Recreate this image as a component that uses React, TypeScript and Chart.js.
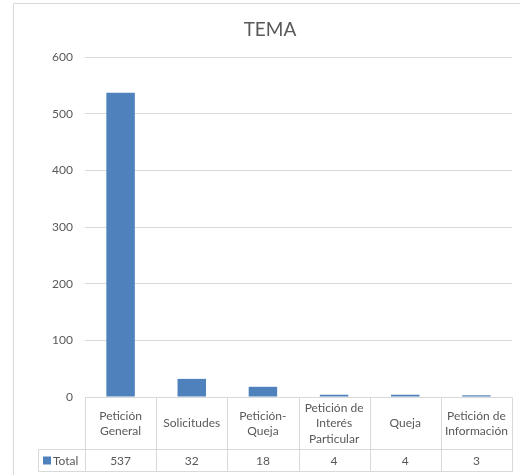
import React, { useEffect, useRef } from "react";
import { Chart, registerables } from "chart.js";

Chart.register(...registerables);

const chartTitle = "TEMA";
const seriesName = "Total";
const categories: string[][] = [
  ["Petición", "General"],
  ["Solicitudes"],
  ["Petición-", "Queja"],
  ["Petición de", "Interés", "Particular"],
  ["Queja"],
  ["Petición de", "Información"],
];
const totals = [537, 32, 18, 4, 4, 3];
const yMin = 0;
const yMax = 600;
const yStep = 100;

const FONT = "Lato, 'Open Sans', 'DejaVu Sans', sans-serif";
const TEXT = "#595959";
const LINE = "#d9d9d9";
const BAR = "#4f81bd";

const tablePlugin = {
  id: "tablePlugin",
  afterDraw(chart: any) {
    const ctx = chart.ctx;
    const area = chart.chartArea;
    const xs = chart.scales.x;
    const n = categories.length;
    const step = n > 1 ? xs.getPixelForValue(1) - xs.getPixelForValue(0) : area.right - area.left;
    const edges: number[] = [];
    for (let i = 0; i < n; i++) edges.push(xs.getPixelForValue(i) - step / 2);
    edges.push(xs.getPixelForValue(n - 1) + step / 2);
    const top = Math.round(area.bottom) + 0.5;
    const mid = top + 52;
    const bottom = mid + 22;
    const legendLeft = 38.5;

    ctx.save();
    ctx.strokeStyle = LINE;
    ctx.lineWidth = 1;
    // outer chart border
    ctx.beginPath();
    ctx.moveTo(13.5, chart.height);
    ctx.lineTo(13.5, 3.5);
    ctx.lineTo(chart.width, 3.5);
    ctx.stroke();

    ctx.beginPath();
    // top line (axis)
    ctx.moveTo(Math.round(edges[0]) + 0.5, top);
    ctx.lineTo(Math.round(edges[n]) + 0.5, top);
    // mid line
    ctx.moveTo(legendLeft, mid);
    ctx.lineTo(Math.round(edges[n]) + 0.5, mid);
    // bottom line
    ctx.moveTo(legendLeft, bottom);
    ctx.lineTo(Math.round(edges[n]) + 0.5, bottom);
    // legend cell left
    ctx.moveTo(legendLeft, mid);
    ctx.lineTo(legendLeft, bottom);
    for (let i = 0; i <= n; i++) {
      const ex = Math.round(edges[i]) + 0.5;
      ctx.moveTo(ex, top);
      ctx.lineTo(ex, bottom);
    }
    ctx.stroke();

    ctx.fillStyle = TEXT;
    ctx.font = `12px ${FONT}`;
    ctx.textAlign = "center";
    ctx.textBaseline = "middle";
    const lh = 15.5;
    const headerMid = (top + mid) / 2;
    for (let i = 0; i < n; i++) {
      const cx = xs.getPixelForValue(i);
      const lines = categories[i];
      const y0 = headerMid - ((lines.length - 1) * lh) / 2;
      lines.forEach((t, j) => ctx.fillText(t, cx, y0 + j * lh));
      ctx.fillText(String(totals[i]), cx, (mid + bottom) / 2 + 1);
    }
    // legend
    ctx.fillStyle = BAR;
    ctx.fillRect(43, (mid + bottom) / 2 - 4, 8, 8);
    ctx.fillStyle = TEXT;
    ctx.textAlign = "left";
    ctx.fillText(seriesName, 53, (mid + bottom) / 2 + 1);

    // title
    ctx.font = `19px ${FONT}`;
    ctx.textAlign = "center";
    ctx.fillText(chartTitle, 270, 30);
    ctx.restore();
  },
};

export default function App() {
  const ref = useRef<HTMLCanvasElement | null>(null);
  useEffect(() => {
    if (!ref.current) return;
    const chart = new Chart(ref.current, {
      type: "bar",
      data: {
        labels: categories.map((c) => c.join(" ")),
        datasets: [
          {
            label: seriesName,
            data: totals,
            backgroundColor: BAR,
            borderWidth: 0,
            categoryPercentage: 1,
            barPercentage: 0.4,
          },
        ],
      },
      options: {
        responsive: false,
        animation: false,
        layout: { padding: { top: 57, right: 8, bottom: 78, left: 0 } },
        plugins: {
          legend: { display: false },
          title: { display: false },
          tooltip: { enabled: false },
        },
        scales: {
          x: { display: false },
          y: {
            min: yMin,
            max: yMax,
            ticks: {
              stepSize: yStep,
              padding: 12,
              color: TEXT,
              font: { family: FONT, size: 12 },
            },
            grid: { color: LINE, drawTicks: false },
            border: { display: false },
            afterFit(scale: any) {
              scale.width = 85;
            },
          },
        },
      },
      plugins: [tablePlugin],
    });
    return () => chart.destroy();
  }, []);
  return (
    <div style={{ position: "fixed", left: 0, top: 0, width: 520, height: 475, background: "#fff" }}>
      <canvas ref={ref} width={520} height={475} style={{ width: 520, height: 475, display: "block" }} />
    </div>
  );
}
